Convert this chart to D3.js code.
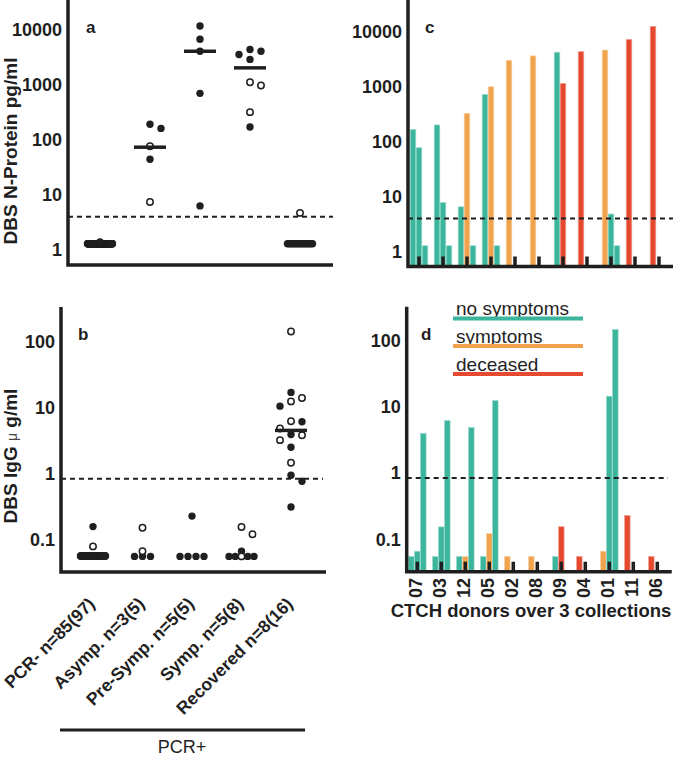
<!DOCTYPE html>
<html><head><meta charset="utf-8">
<script src="https://cdn.jsdelivr.net/npm/d3@7"></script>
<style>body{margin:0;background:#fff;} svg{display:block;font-family:"Liberation Sans",Arial,Helvetica,sans-serif;}</style>
</head><body><svg id="chart" width="685" height="757"></svg>
<script>
// ---------------- DATA ----------------
const groupLabels = ["PCR- n=85(97)", "Asymp. n=3(5)", "Pre-Symp. n=5(5)", "Symp. n=5(8)", "Recovered n=8(16)"];

// panel a: DBS N-Protein pg/ml (filled / open circles per group)
const nProtPcrNeg = [
  1.3,1.3,1.3,1.3,1.3,1.3,1.3,1.3,1.3,1.3,1.3,1.3,
  1.3,1.3,1.3,1.3,1.3,1.3,1.3,1.3,1.3,1.3,1.3,1.3,
  1.3,1.3,1.3,1.3,1.3,1.3,1.3,1.3,1.3,1.3,1.3,1.3,
  1.3,1.3,1.3,1.3,1.3,1.3,1.3,1.3,1.3,1.3,1.3,1.3,
  1.3,1.3,1.3,1.3,1.3,1.3,1.3,1.3,1.3,1.3,1.3,1.3,
  1.3,1.3,1.3,1.3,1.3,1.3,1.3,1.3,1.3,1.3,1.3,1.3,
  1.3,1.3,1.3,1.3,1.3,1.3,1.3,1.3,1.3,1.3,1.3,1.3,
  1.3,1.3,1.3,1.3,1.3,1.3,1.3,1.3,1.3,1.3,1.3,1.3,
  1.4];
const nProtRecovered = [1.3,1.3,1.3,1.3,1.3,1.3,1.3,1.3,1.3,1.3,1.3,1.3,1.3,1.3,1.3];
const nProtFilled = [nProtPcrNeg, [190,160,44], [11500,6600,4000,690,6.3], [4300,4000,3500,2850,170], nProtRecovered];
const nProtOpen   = [[], [76,7.4], [], [1100,960,315], [4.7]];
const nProtMedian = [null, 73, 4000, 2000, null];
const nProtTicks  = [1,10,100,1000,10000];
const nProtCutoff = 4;

// panel b: DBS IgG µg/ml
const iggPcrNeg = [0.156,
  0.056,0.056,0.056,0.056,0.056,0.056,0.056,0.056,0.056,0.056,0.056,0.056,
  0.056,0.056,0.056,0.056,0.056,0.056,0.056,0.056,0.056,0.056,0.056,0.056,
  0.056,0.056,0.056,0.056,0.056,0.056,0.056,0.056,0.056,0.056,0.056,0.056,
  0.056,0.056,0.056,0.056,0.056,0.056,0.056,0.056,0.056,0.056,0.056,0.056,
  0.056,0.056,0.056,0.056,0.056,0.056,0.056,0.056,0.056,0.056,0.056,0.056,
  0.056,0.056,0.056,0.056,0.056,0.056,0.056,0.056,0.056,0.056,0.056,0.056,
  0.056,0.056,0.056,0.056,0.056,0.056,0.056,0.056,0.056,0.056,0.056,0.056,
  0.056,0.056,0.056,0.056,0.056,0.056,0.056,0.056,0.056,0.056,0.056];
const iggFilled = [iggPcrNeg, [0.055,0.055,0.055], [0.225,0.055,0.055,0.055,0.055], [0.066,0.055,0.055,0.055,0.055], [17,10.5,6.1,3.9,2.5,0.94,0.76,0.31]];
const iggOpen   = [[0.078], [0.15,0.066], [], [0.154,0.119,0.055], [143,14,12.4,6.2,4.8,3.8,3.2,1.45]];
const iggMedian = [null, null, null, null, 4.5];
const iggTicks  = [0.1,1,10,100];
const iggCutoff = 0.83;

// panels c & d: CTCH donors, 3 collections each
const donors = ["07","03","12","05","02","08","09","04","01","11","06"];
const donorStatus = [
  ["n","n","n"],["n","n","n"],["n","s","n"],["n","s","n"],["s",null,null],["s",null,null],
  ["n","d",null],["d",null,null],["s","n","n"],["d",null,null],["d",null,null]];
const donorNProt = [
  [166,77,1.27],[200,7.8,1.27],[6.5,325,1.27],[720,990,1.27],[3000,null,null],[3600,null,null],
  [4200,1140,null],[4300,null,null],[4600,4.8,1.27],[7200,null,null],[12400,null,null]];
const donorIgG = [
  [0.055,0.066,4.0],[0.055,0.154,6.2],[0.055,0.055,4.9],[0.055,0.122,12.5],[0.055,null,null],[0.055,null,null],
  [0.055,0.155,null],[0.055,null,null],[0.066,14.5,148],[0.23,null,null],[0.055,null,null]];
const statusKeys   = ["n","s","d"];
const statusLabels = ["no symptoms","symptoms","deceased"];
const statusColors = ["#3bb59c","#f0a24c","#e5492f"];

// ---------------- DRAWING ----------------
const FONT = '"Liberation Sans",Arial,Helvetica,sans-serif';
const INK = "#1f1f1f";
const svg = d3.select("#chart");
const colorOf = d3.scaleOrdinal().domain(statusKeys).range(statusColors);

const P = {
  a: {ax:68,   top:0,     bottom:265,   right:333,   dashEnd:333, y:d3.scaleLog().domain([1,10000]).range([250,29.3]),  x:d3.scalePoint().domain(groupLabels).range([100,300])},
  b: {ax:61,   top:307,   bottom:572,   right:326,   dashEnd:323, y:d3.scaleLog().domain([0.1,100]).range([539.3,341.7]), x:d3.scalePoint().domain(groupLabels).range([93,291])},
  c: {ax:408,  top:0,     bottom:266.5, right:673,   dashEnd:673, y:d3.scaleLog().domain([1,10000]).range([251.5,31.5]), x:d3.scalePoint().domain(donors).range([419,659])},
  d: {ax:406.7,top:306.7, bottom:571.7, right:671.7, dashEnd:668, y:d3.scaleLog().domain([0.1,100]).range([539.3,340.7]), x:d3.scalePoint().domain(donors).range([417.3,657.3])}
};

function yAxis(p, ticks) {
  const g = svg.append("g").attr("transform", `translate(${p.ax},0)`)
    .call(d3.axisLeft(p.y).tickValues(ticks).tickFormat(d => String(d)).tickSize(0).tickPadding(6));
  g.select(".domain").remove();
  g.attr("font-family", FONT).attr("font-size", 18).attr("font-weight", "bold");
  g.selectAll("text").attr("fill", INK);
}
function frame(p) {
  svg.append("path").attr("d", `M${p.ax},${p.top}V${p.bottom}H${p.right}`)
    .attr("fill","none").attr("stroke",INK).attr("stroke-width",3.5).attr("stroke-linejoin","miter");
}
function dashed(p, v) {
  svg.append("line").attr("x1",p.ax).attr("x2",p.dashEnd).attr("y1",p.y(v)).attr("y2",p.y(v))
    .attr("stroke",INK).attr("stroke-width",2).attr("stroke-dasharray","5,4");
}
function letter(t, x, y) {
  svg.append("text").attr("x",x).attr("y",y).attr("font-size",17).attr("font-weight","bold").attr("fill",INK).text(t);
}

// beeswarm-like layout (positions computed, not stored in data)
function layoutGroup(filled, open, cx, yS) {
  const pts = filled.map(v => ({v, open:false})).concat(open.map(v => ({v, open:true})));
  const byVal = d3.group(pts, d => d.v);
  const placed = [];
  for (const [v, arr] of byVal) {
    if (arr.length >= 3) {
      const f = arr.filter(d => !d.open), o = arr.filter(d => d.open);
      const half = Math.floor(f.length/2);
      const row = f.slice(0, half).concat(o, f.slice(half));
      const n = row.length, sp = Math.min(8, 25/(n-1));
      row.forEach((d,i) => { d.x = cx + (i-(n-1)/2)*sp; d.y = yS(v); d.row = true; });
    }
  }
  const singles = pts.filter(d => !d.row).sort((a,b) => b.v - a.v);
  const cands = [0, 11, -11, 22, -22];
  singles.forEach(d => {
    d.y = yS(d.v);
    d.x = cx;
    for (const c of cands) {
      if (placed.every(q => Math.hypot(q.x-(cx+c), q.y-d.y) >= 9)) { d.x = cx + c; break; }
    }
    placed.push(d);
  });
  return pts;
}

function dotPanel(p, filled, open, medians) {
  const all = [];
  groupLabels.forEach((g,i) => all.push(...layoutGroup(filled[i], open[i], p.x(g), p.y)));
  svg.append("g").selectAll("circle").data(all.filter(d => !d.open)).join("circle")
    .attr("cx", d => d.x).attr("cy", d => d.y).attr("r", 3.7).attr("fill", INK);
  svg.append("g").selectAll("circle").data(all.filter(d => d.open)).join("circle")
    .attr("cx", d => d.x).attr("cy", d => d.y).attr("r", 3.2).attr("fill", "#fff").attr("stroke", INK).attr("stroke-width", 1.5);
  svg.append("g").selectAll("line").data(groupLabels.map((g,i) => ({g, m:medians[i]})).filter(d => d.m != null)).join("line")
    .attr("x1", d => p.x(d.g)-16).attr("x2", d => p.x(d.g)+16)
    .attr("y1", d => p.y(d.m)).attr("y2", d => p.y(d.m))
    .attr("stroke", INK).attr("stroke-width", 3.5);
}

function barPanel(p, values) {
  const bars = [];
  donors.forEach((dn,i) => values[i].forEach((v,k) => {
    if (v != null) bars.push({dn, k, v, s: donorStatus[i][k]});
  }));
  svg.append("g").selectAll("rect").data(bars).join("rect")
    .attr("x", d => p.x(d.dn) + (d.k-1)*6 - 2.8).attr("width", 5.6)
    .attr("y", d => p.y(d.v)).attr("height", d => p.bottom - p.y(d.v))
    .attr("fill", d => colorOf(d.s))
    .attr("stroke", d => d3.interpolateRgb(colorOf(d.s), "#fff")(0.5)).attr("stroke-width", 0.7);
  svg.append("g").selectAll("rect").data(donors).join("rect")
    .attr("x", d => p.x(d) - 1.75).attr("width", 3.5)
    .attr("y", p.bottom - 10).attr("height", 10).attr("fill", INK);
}

svg.attr("font-family", FONT);

// ---- panel a
dotPanel(P.a, nProtFilled, nProtOpen, nProtMedian);
dashed(P.a, nProtCutoff);
frame(P.a);
yAxis(P.a, nProtTicks);
letter("a", 86, 33);
svg.append("text").attr("transform","translate(17,151) rotate(-90)").attr("text-anchor","middle")
  .attr("font-size",19).attr("font-weight","bold").attr("fill",INK).text("DBS N-Protein pg/ml");

// ---- panel b
dotPanel(P.b, iggFilled, iggOpen, iggMedian);
dashed(P.b, iggCutoff);
frame(P.b);
yAxis(P.b, iggTicks);
letter("b", 78, 340);
const tb = svg.append("text").attr("transform","translate(17,456) rotate(-90)").attr("text-anchor","middle")
  .attr("font-size",19).attr("font-weight","bold").attr("fill",INK);
tb.append("tspan").text("DBS IgG ");
tb.append("tspan").attr("font-weight","normal").attr("font-size",14).attr("fill","#444").text("μ");
tb.append("tspan").text(" g/ml");

// group labels (rotated)
svg.append("g").selectAll("text").data(groupLabels).join("text")
  .attr("transform", d => `translate(${P.b.x(d)+3},605) rotate(-45)`)
  .attr("text-anchor","end").attr("font-size",17.5).attr("font-weight","bold").attr("fill",INK)
  .text(d => d);
svg.append("line").attr("x1",60).attr("x2",305).attr("y1",730).attr("y2",730).attr("stroke",INK).attr("stroke-width",3);
svg.append("text").attr("x",182).attr("y",753).attr("text-anchor","middle").attr("font-size",18).attr("fill",INK).text("PCR+");

// ---- panel c
barPanel(P.c, donorNProt);
dashed(P.c, nProtCutoff);
frame(P.c);
yAxis(P.c, nProtTicks);
letter("c", 425, 33);

// ---- panel d
barPanel(P.d, donorIgG);
dashed(P.d, 0.84);
frame(P.d);
yAxis(P.d, iggTicks);
letter("d", 421, 340);

// legend
const leg = svg.append("g").selectAll("g").data(statusKeys).join("g")
  .attr("transform", (d,i) => `translate(0,${[0,27.5,55.5][i]})`);
leg.append("text").attr("x",456).attr("y",315).attr("font-size",19).attr("fill",INK)
  .text((d,i) => statusLabels[i]);
leg.append("line").attr("x1",453).attr("x2",583).attr("y1",318.5).attr("y2",318.5)
  .attr("stroke", d => colorOf(d)).attr("stroke-width",4);

// donor labels
svg.append("g").selectAll("text").data(donors).join("text")
  .attr("transform", d => `translate(${P.d.x(d)-1.5},578) rotate(-90)`)
  .attr("text-anchor","end").attr("dy","0.35em").attr("font-size",18).attr("font-weight","bold").attr("fill",INK)
  .text(d => d);
svg.append("text").attr("x",531).attr("y",617).attr("text-anchor","middle").attr("font-size",18.5).attr("font-weight","bold").attr("fill",INK)
  .text("CTCH donors over 3 collections");
</script></body></html>
